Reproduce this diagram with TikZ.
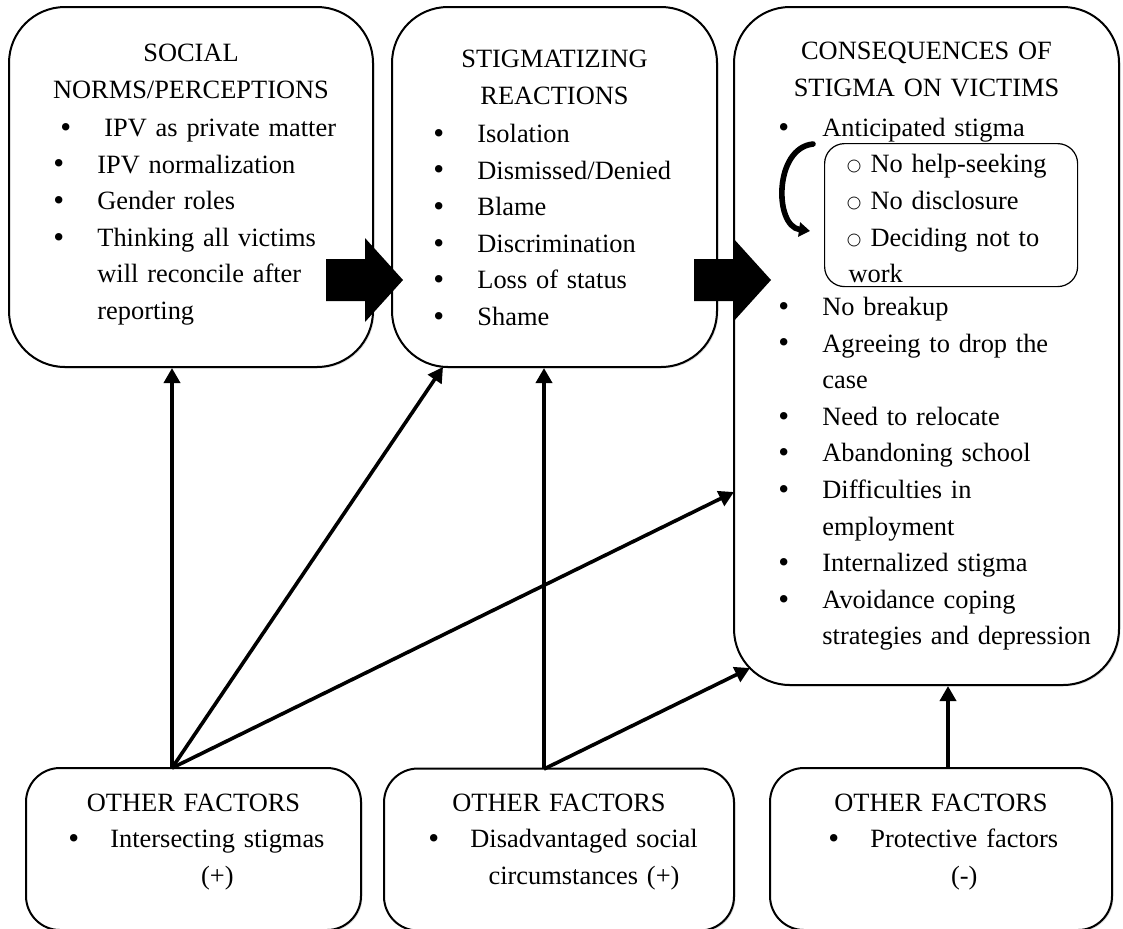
\documentclass[tikz,border=0pt]{standalone}
\usepackage{fontspec}
\setmainfont{Liberation Serif}
\usetikzlibrary{arrows.meta,shadows}
\newcommand{\pf}{\fontsize{13.2}{18.3}\selectfont}
\newcommand{\dt}{\raisebox{-0.4pt}{\fontsize{15.5}{15.5}\selectfont\textbullet}}
\newcommand{\bi}[2][0pt]{\hangindent=22pt\hangafter=1\noindent\hspace*{#1}\makebox[22pt][l]{\dt}\strut#2\par}
\newcommand{\ci}[1]{\makebox[21pt][l]{\dt}\begin{tabular}[t]{@{}c@{}}#1\end{tabular}}
\newcommand{\so}{\makebox[11pt][l]{\setlength{\unitlength}{1pt}\begin{picture}(6,6)\put(3,3){\circle{6}}\end{picture}}}

\begin{document}
\begin{tikzpicture}[x=0.5pt, y=-0.5pt,
    panel/.style={draw, line width=1pt, fill=white, rounded corners=28pt,
      drop shadow={shadow xshift=0.7pt, shadow yshift=-0.7pt, opacity=0.3}},
    footbox/.style={panel, rounded corners=17pt, minimum height=81pt},
    subbox/.style={draw, line width=0.6pt, rounded corners=10pt, anchor=north west,
      text width=102.5pt, inner xsep=12pt, inner ysep=0pt, minimum height=71.5pt,
      align=left, font=\pf},
    ttl/.style={anchor=north, inner sep=0pt, align=center, text width=185pt, font=\pf},
    lst/.style={anchor=north west, inner sep=0pt, align=left, text width=170pt, font=\pf},
    link/.style={-{Triangle[length=7.5pt,width=8pt]}, line width=1.8pt},
    curl/.style={-{Triangle[length=5.5pt,width=7pt]}, line width=2.8pt, line cap=round}]
  \useasboundingbox (0,0) rectangle (1123,928);

  \node[panel, minimum width=182pt, minimum height=180pt] (SN) at (191,187) {};
  \node[panel, minimum width=162.5pt, minimum height=180pt] (SR) at (554.5,187) {};
  \node[panel, minimum width=192.5pt, minimum height=339pt] (CV) at (926.5,346) {};
  \node[footbox, minimum width=167.5pt] (FL) at (193.5,849) {};
  \node[footbox, minimum width=175pt] (FM) at (559,849.5) {};
  \node[footbox, minimum width=171pt] (FR) at (941,849) {};

  \node[ttl] (SNt) at (191,35.4) {\strut SOCIAL\\NORMS/PERCEPTIONS};
  \node[lst] (SNl) at (53,110.4) {\bi[3.5pt]{IPV as private matter}\bi{IPV normalization}\bi{Gender roles}\bi{Thinking all victims\newline will reconcile after\newline reporting}};

  \node[ttl] (SRt) at (554.5,41.4) {\strut STIGMATIZING\\REACTIONS};
  \node[lst] (SRl) at (433,116.4) {\bi{Isolation}\bi{Dismissed/Denied}\bi{Blame}\bi{Discrimination}\bi{Loss of status}\bi{Shame}};

  \node[ttl] (CVt) at (926.5,33.4) {\strut CONSEQUENCES OF\\STIGMA ON VICTIMS};
  \node[lst] (CVa) at (778,110.4) {\bi{Anticipated stigma}};
  \node[subbox] (AS) at (824,143) {\strut\so No help-seeking\newline\so No disclosure\newline\so Deciding not to\newline work};
  \node[lst] (CVl) at (778,289.4) {\bi{No breakup}\bi{Agreeing to drop the\newline case}\bi{Need to relocate}\bi{Abandoning school}\bi{Difficulties in\newline employment}\bi{Internalized stigma}\bi{Avoidance coping\newline strategies and depression}};

  \node[ttl] (FLt) at (193.5,785.4) {\strut OTHER FACTORS};
  \node[lst] (FLl) at (68,821.4) {\ci{Intersecting stigmas\\(+)}};
  \node[ttl] (FMt) at (559,785.4) {\strut OTHER FACTORS};
  \node[lst] (FMl) at (428,821.4) {\ci{Disadvantaged social\\circumstances (+)}};
  \node[ttl] (FRt) at (941,785.4) {\strut OTHER FACTORS};
  \node[lst] (FRl) at (828,821.4) {\ci{Protective factors\\(-)}};

  \coordinate (FLo) at (172,768);
  \coordinate (FMo) at (544,769);
  \coordinate (FRo) at (948,768);
  \coordinate (SRin) at (443,367);
  \coordinate (CVin) at (734,492);
  \coordinate (CVcr) at (750,668);
  \draw [link] (FLo) -- (FLo |- SN.south);
  \draw [link] (FLo) -- (SRin);
  \draw [link] (FLo) -- (CVin);
  \draw [link] (FMo) -- (FMo |- SR.south);
  \draw [link] (FMo) -- (CVcr);
  \draw [link] (FRo) -- (FRo |- CV.south);

  \foreach \bx in {326,694}
    \fill (\bx,280) ++(0,-21) -- ++(39,0) -- ++(0,-21) -- ++(38,42) -- ++(-38,42) -- ++(0,-21) -- ++(-39,0) -- cycle;

  \coordinate (CLs) at (813,144);
  \coordinate (CLe) at (810,231);
  \draw [curl] (CLs) .. controls (774,148) and (774,226) .. (CLe);
\end{tikzpicture}
\end{document}
